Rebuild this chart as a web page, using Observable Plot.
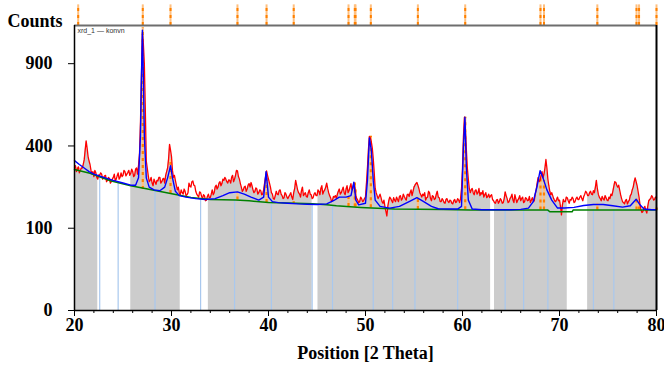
<!DOCTYPE html>
<html>
<head>
<meta charset="utf-8">
<script src="https://cdn.jsdelivr.net/npm/d3@7"></script>
<script src="https://cdn.jsdelivr.net/npm/@observablehq/plot@0.6"></script>
<style>
  body { margin: 0; background: #fff; }
  #chart svg { display: block; }
</style>
</head>
<body>
<div id="chart"></div>
<script>
// Observed pattern: 2θ from 20 to 80 every 0.1°
const obsStart = 20, obsStep = 0.1;
const obsCounts = [
  300,310,285,295,305,280,290,300,300,315,335,380,425,390,350,330,315,290,275,285,
  265,290,280,262,255,272,270,280,275,255,260,268,270,245,250,262,258,240,245,255,
  262,275,248,255,268,280,255,262,280,265,270,290,285,268,275,282,290,270,278,295,
  285,265,270,295,300,275,310,360,520,800,1130,1050,900,600,330,300,270,245,250,262,
  240,230,255,245,235,250,248,262,262,240,245,255,258,240,270,285,300,340,408,380,
  350,290,262,270,250,232,215,225,205,198,215,205,200,218,210,195,198,205,240,228,
  225,245,248,232,230,210,200,195,190,208,205,192,185,198,195,178,180,192,200,188,
  188,200,215,198,205,225,232,218,225,240,245,230,238,255,250,262,255,245,240,252,
  250,240,262,270,245,255,270,290,288,265,255,238,225,210,215,225,228,210,218,232,
  238,225,242,230,215,205,210,222,218,200,205,215,212,198,200,215,240,265,288,270,
  255,240,225,205,200,185,183,195,210,200,198,212,215,200,195,185,188,205,200,190,
  185,192,198,205,190,182,205,220,250,232,215,205,200,190,212,225,195,200,205,192,
  190,205,215,200,198,185,188,200,205,195,195,215,210,198,220,230,200,210,215,225,
  240,220,205,195,188,175,180,192,190,195,185,200,210,218,200,205,215,225,205,198,
  218,230,205,212,225,238,215,220,240,225,195,185,180,172,175,190,185,175,178,185,
  190,240,300,380,448,440,420,390,340,280,220,205,195,185,192,200,188,175,170,180,
  160,145,132,160,178,190,185,178,172,188,180,175,190,182,175,192,195,180,185,200,
  192,185,180,198,200,192,205,215,195,210,225,232,238,242,232,220,205,198,190,200,
  195,205,180,188,190,210,205,185,178,195,192,182,185,200,210,190,188,175,175,185,
  180,172,170,182,185,176,172,180,178,170,168,178,182,172,175,185,180,172,185,220,
  300,450,552,480,380,300,255,220,205,215,220,205,198,212,215,200,205,220,195,205,
  200,212,190,198,205,188,192,200,188,195,198,182,178,172,170,180,182,170,175,185,
  180,170,172,185,208,195,185,172,175,185,190,200,180,172,198,185,172,180,185,195,
  178,185,190,172,175,188,185,178,180,192,172,180,188,175,178,200,215,240,262,245,
  250,270,285,260,275,300,337,300,255,230,210,198,205,195,185,178,175,182,190,178,
  180,160,135,165,182,175,175,190,188,178,170,182,180,190,185,172,175,185,190,182,
  182,190,195,185,178,192,200,210,205,195,195,205,210,200,198,212,205,225,250,220,
  200,190,185,178,192,185,180,195,188,180,178,190,185,200,195,210,228,245,243,232,
  225,232,215,198,185,175,172,168,178,182,168,175,180,195,200,215,225,245,260,245,
  230,210,190,165,150,142,145,155,160,148,140,160,178,182,185,195,190,180,182,190,
  188
];

// Calculated profile (blue)
const fitPos = [20,20.5,21,21.5,22,23,24,25,25.8,26.3,26.6,26.8,26.9,27,27.1,27.2,27.4,27.7,28.2,28.8,29.3,29.6,29.9,30.1,30.4,30.8,31.5,32.5,33.5,34.5,35.3,36,36.8,37.5,38.2,39,39.5,39.75,40,40.4,41,42,43,44,45,46,46.7,47.3,48,48.5,48.8,49,49.3,50,50.2,50.4,50.6,50.8,51,51.5,52.5,53.5,54.5,55.3,56,56.8,57.5,58.5,59.5,59.9,60.1,60.25,60.4,60.6,61,62,63,64,65,66,66.8,67.3,67.7,68,68.3,68.7,69.2,69.8,70.5,71.5,72.5,73.5,74.5,75.5,76.5,77.3,77.9,78.3,78.7,79.5,80];
const fitCounts = [332,315,300,285,275,262,250,240,232,232,260,450,800,1160,800,450,260,225,215,212,225,260,310,260,210,195,190,185,182,185,195,205,208,200,190,180,190,285,190,175,172,170,168,167,166,168,178,190,190,195,243,180,165,170,250,440,380,250,180,160,155,160,175,188,175,160,153,152,152,160,400,552,300,180,152,150,150,150,150,151,155,175,230,289,260,215,180,155,155,157,163,166,166,162,158,162,183,165,152,150,150];

// Background (green)
const bgPos = [20,21.6,23.7,25.8,27.8,29.9,32,34,36.6,38,40,42.8,44.5,46,47,49.5,53,58,60.8,65,68.8,69,71.3,71.4,80];
const bgCounts = [294,278,249,230,216,202,189,182,180,178,172,170,168,165,162,157,152,151,149,149,149,144,144,149,149];

// White gaps in the grey fill
const gapStart = [22.4,30.9,44.5,62.9,70.8];
const gapEnd   = [25.8,33.8,45.1,63.3,72.9];

// Light blue markers
const markPos = [22.6,24.5,28.3,33.0,36.5,40.3,44.5,46.6,50.8,52.8,55.1,59.5,64.4,66.3,68.8,73.5,75.6,80];
const markTop = [265,242,213,185,180,172,168,163,155,152,151,150,149,149,149,149,149,149];

// Reference peak list (orange)
const refPos  = [20.38,27.04,29.9,36.8,39.8,42.6,48.25,48.9,48.97,50.55,55.4,60.28,68.04,68.4,73.9,77.94,78.2,80.0];
const refTop  = [300,1180,337,205,265,175,190,240,215,448,190,552,265,250,170,185,170,155];
const refBase = [294,216,202,180,172,170,160,158,158,156,151,150,149,149,149,149,149,149];

const xTicks = [20,30,40,50,60,70,80];
const yTicks = [0,100,400,900];

const obs = obsCounts.map((c, i) => ({x: obsStart + i * obsStep, y: c}));
const fit = fitPos.map((x, i) => ({x, y: fitCounts[i]}));
const bg = bgPos.map((x, i) => ({x, y: bgCounts[i]}));
const gaps = gapStart.map((s, i) => ({x1: s, x2: gapEnd[i], y1: 0, y2: 1200}));
const marks = markPos.map((x, i) => ({x, y1: 0, y2: markTop[i]}));
const refs = refPos.map((x, i) => ({x, y1: refBase[i], y2: refTop[i], s1: 1200, s2: 1380}));

const font = "'Liberation Serif', 'Times New Roman', serif";

const chart = Plot.plot({
  width: 664,
  height: 365,
  marginLeft: 74,
  marginRight: 8,
  marginTop: 25,
  marginBottom: 55,
  style: {fontFamily: font, fontSize: "18px", fontWeight: "bold", color: "#000", background: "#fff"},
  x: {domain: [20, 80]},
  y: {type: "sqrt", domain: [0, 1200]},
  marks: [
    Plot.areaY(obs, {x: "x", y: "y", fill: "#cccccc"}),
    Plot.rect(gaps, {x1: "x1", x2: "x2", y1: "y1", y2: "y2", fill: "white"}),
    Plot.ruleX(marks, {x: "x", y1: "y1", y2: "y2", stroke: "#a9c8ee", strokeWidth: 1.2}),
    Plot.ruleX(refs, {x: "x", y1: "y1", y2: "y2", stroke: "#ffc080", strokeWidth: 2.2}),
    Plot.ruleX(refs, {x: "x", y1: "y1", y2: "y2", stroke: "#ff8000", strokeWidth: 2.2, strokeDasharray: "3,4"}),
    Plot.lineY(obs, {x: "x", y: "y", stroke: "#ff0000", strokeWidth: 1.3}),
    Plot.lineY(bg, {x: "x", y: "y", stroke: "#008000", strokeWidth: 1.5}),
    Plot.lineY(fit, {x: "x", y: "y", stroke: "#0000ff", strokeWidth: 1.4}),
    // top strip of reference positions
    Plot.ruleX(refs, {x: "x", y1: "s1", y2: "s2", stroke: "#ffc080", strokeWidth: 2}),
    Plot.ruleX(refs, {x: "x", y1: "s1", y2: "s2", stroke: "#ff8000", strokeWidth: 2, strokeDasharray: "3,4"}),
    // frame
    Plot.ruleY([1200], {stroke: "#6e6e6e", strokeWidth: 2}),
    Plot.ruleX([80], {stroke: "#000", strokeWidth: 2}),
    Plot.ruleX([20], {stroke: "#000", strokeWidth: 1.5}),
    Plot.ruleY([0], {stroke: "#000", strokeWidth: 1.5}),
    Plot.axisX({ticks: d3.range(20, 81, 2), tickSize: 3, text: null, label: null}),
    Plot.axisX({ticks: xTicks, tickSize: 6, tickPadding: 2, tickFormat: d => String(d),
                label: "Position [2 Theta]", labelAnchor: "center", labelOffset: 48, labelArrow: "none"}),
    Plot.axisY({ticks: yTicks, tickSize: 6, tickPadding: 16, tickFormat: d => String(d), label: null}),
    Plot.text(["Counts"], {frameAnchor: "top-left", dx: -67, dy: -4, textAnchor: "start", lineAnchor: "middle", fontSize: 18, fontWeight: "bold"}),
    Plot.text(["xrd_1 — konvn"], {frameAnchor: "top-left", dx: 3, dy: 5, textAnchor: "start", lineAnchor: "middle", fontSize: 7, fontWeight: "normal", fontFamily: "'Liberation Sans', sans-serif", fill: "#333"})
  ]
});
document.getElementById("chart").appendChild(chart);
</script>
</body>
</html>
